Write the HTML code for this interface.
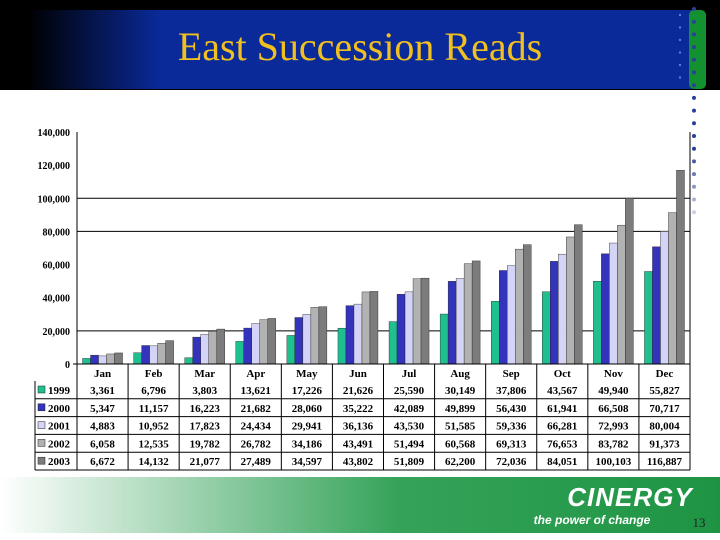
<!DOCTYPE html>
<html><head><meta charset="utf-8"><style>
html,body{margin:0;padding:0;background:#fff}
svg{display:block}
text{font-family:"Liberation Serif",serif}
</style></head><body>
<svg id="s" width="720" height="540" viewBox="0 0 720 540" xmlns="http://www.w3.org/2000/svg">
<defs>
<linearGradient id="tg" x1="0" x2="1" y1="0" y2="0"><stop offset="0" stop-color="#000"/><stop offset="0.2" stop-color="#0a2a9a"/><stop offset="1" stop-color="#0a2a9a"/></linearGradient>
<linearGradient id="fg" x1="0" x2="1" y1="0" y2="0"><stop offset="0" stop-color="#fff"/><stop offset="0.55" stop-color="#35a35a"/><stop offset="1" stop-color="#1e9443"/></linearGradient>
</defs>
<rect x="0" y="0" width="720" height="90" fill="#000"/>
<rect x="28" y="10" width="665" height="79" fill="url(#tg)"/>
<rect x="689" y="10" width="17" height="79" rx="5" fill="#139030"/>
<text x="360" y="60" text-anchor="middle" font-size="40" fill="#f0c020">East Succession Reads</text>
<g id="dots"></g>
<g id="chart"></g>
<rect x="0" y="477" width="720" height="56" fill="url(#fg)"/>
<text x="630" y="506" text-anchor="middle" font-size="26" font-weight="bold" font-style="italic" fill="#fff" style="font-family:'Liberation Sans',sans-serif;letter-spacing:1px">CINERGY</text>
<text x="592" y="524" text-anchor="middle" font-size="12" font-weight="bold" font-style="italic" fill="#fff" style="font-family:'Liberation Sans',sans-serif">the power of change</text>
<text x="699" y="527" text-anchor="middle" font-size="13" fill="#222">13</text>
</svg>
<script>
const months=["Jan","Feb","Mar","Apr","May","Jun","Jul","Aug","Sep","Oct","Nov","Dec"];
const years=["1999","2000","2001","2002","2003"];
const s1999=[3361,6796,3803,13621,17226,21626,25590,30149,37806,43567,49940,55827];
const s2000=[5347,11157,16223,21682,28060,35222,42089,49899,56430,61941,66508,70717];
const s2001=[4883,10952,17823,24434,29941,36136,43530,51585,59336,66281,72993,80004];
const s2002=[6058,12535,19782,26782,34186,43491,51494,60568,69313,76653,83782,91373];
const s2003=[6672,14132,21077,27489,34597,43802,51809,62200,72036,84051,100103,116887];
const yTicks=[0,20000,40000,60000,80000,100000,120000,140000];
const gridVals=[20000,80000,100000];
const series=[s1999,s2000,s2001,s2002,s2003];
const colors=["#1fbf8f","#3333bb","#d4d4f6","#b2b2b2","#7c7c7c"];
const NS="http://www.w3.org/2000/svg";
const L=77,R=690,T=132,B=364,yMax=140000;
const cw=(R-L)/months.length;
function y(v){return B-(v/yMax)*(B-T);}
function x(i){return L+i*cw;}
function mk(tag,a,p){const e=document.createElementNS(NS,tag);for(const k in a)e.setAttribute(k,a[k]);p.appendChild(e);return e;}
const g=document.getElementById('chart');
function fmt(v){return v.toLocaleString('en-US');}
yTicks.forEach(v=>{
 const t=mk('text',{x:70,y:y(v)+4,'text-anchor':'end','font-size':10,'font-weight':'bold'},g);
 t.textContent=fmt(v);
 
 
});
gridVals.forEach(v=>{
 const l=mk('line',{x1:L,x2:R,y1:y(v),y2:y(v),stroke:'#000','stroke-width':1},g);
 
 
});
mk('line',{x1:L,x2:L,y1:T,y2:B,stroke:'#000'},g);
mk('line',{x1:R,x2:R,y1:T,y2:B,stroke:'#000'},g);
const bw=8,off=(cw-bw*5)/2;
series.forEach((sv,si)=>{sv.forEach((v,i)=>{
 const r=mk('rect',{x:x(i)+off+si*bw,y:y(v),width:bw,height:B-y(v),fill:colors[si],stroke:'#222','stroke-width':0.4},g);
 
 
});});
mk('line',{x1:L-4,x2:R,y1:B,y2:B,stroke:'#000'},g);
const hT=B,hB=381,rowH=17.8;
months.forEach((m,i)=>{
 const t=mk('text',{x:x(i)+cw/2,y:377,'text-anchor':'middle','font-size':11,'font-weight':'bold'},g);
 t.textContent=m;
 
 
});
for(let i=0;i<=months.length;i++){mk('line',{x1:x(i),x2:x(i),y1:hT,y2:hB+rowH*5,stroke:'#000'},g);}
mk('line',{x1:35,x2:35,y1:hB,y2:hB+rowH*5,stroke:'#000'},g);
series.forEach((sv,si)=>{
 const ry=hB+si*rowH;
 mk('line',{x1:35,x2:R,y1:ry+rowH,y2:ry+rowH,stroke:'#000'},g);
 const sw=mk('rect',{x:38,y:ry+5,width:7,height:7,fill:colors[si],stroke:'#222','stroke-width':0.5},g);
 
 
 const lt=mk('text',{x:48,y:ry+13,'font-size':11,'font-weight':'bold'},g);
 lt.textContent=years[si];
 
 
 sv.forEach((v,i)=>{
  const t=mk('text',{x:x(i)+cw/2,y:ry+13,'text-anchor':'middle','font-size':11,'font-weight':'bold'},g);
  t.textContent=fmt(v);
  
  
 });
});
const d=document.getElementById('dots');
for(let k=0;k<17;k++){
 const op=k<12?1:Math.max(0.15,1-(k-11)*0.15);
 const c=mk('circle',{cx:694,cy:9+k*12.7,r:2,fill:'#2a3f9a','fill-opacity':op},d);
 
 
}
for(let k=0;k<6;k++){mk('circle',{cx:680,cy:15+k*12.5,r:1.2,fill:'#5a78d0'},d);}
</script>
</body></html>
